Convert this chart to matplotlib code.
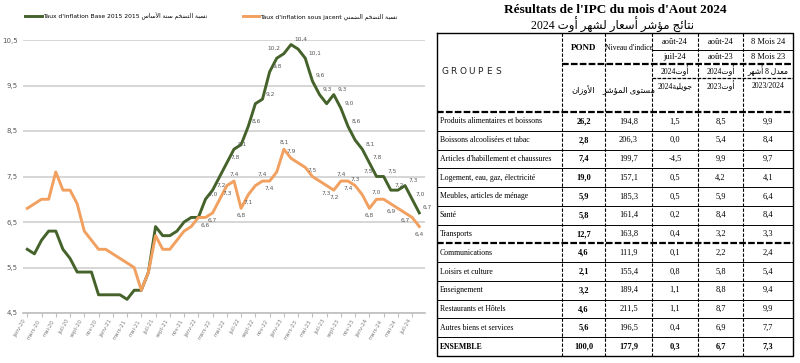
import numpy as np
import matplotlib.pyplot as plt

plt.rcParams['font.family'] = ['DejaVu Sans']

# ---------------- data ----------------
months = ['janv', 'févr', 'mars', 'avr', 'mai', 'juin', 'juil', 'août', 'sept', 'oct', 'nov', 'déc']
periods = [f"{m}-{y}" for y in range(20, 25) for m in months][:56]

base2015 = [5.9, 5.8, 6.1, 6.3, 6.3, 5.9, 5.7, 5.4, 5.4, 5.4, 4.9, 4.9, 4.9, 4.9, 4.8, 5.0,
            5.0, 5.4, 6.4, 6.2, 6.2, 6.3, 6.5, 6.6, 6.6, 7.0, 7.2, 7.5, 7.8, 8.1, 8.2, 8.6,
            9.1, 9.2, 9.8, 10.1, 10.2, 10.4, 10.3, 10.1, 9.6, 9.3, 9.1, 9.3, 9.0, 8.6, 8.3, 8.1,
            7.8, 7.5, 7.5, 7.2, 7.2, 7.3, 7.0, 6.7]
sousjacent = [6.8, 6.9, 7.0, 7.0, 7.6, 7.2, 7.2, 6.9, 6.3, 6.1, 5.9, 5.9, 5.8, 5.7, 5.6, 5.5,
              5.0, 5.4, 6.2, 5.9, 5.9, 6.1, 6.3, 6.4, 6.6, 6.6, 6.7, 7.0, 7.3, 7.4, 6.8, 7.1,
              7.3, 7.4, 7.4, 7.6, 8.1, 7.9, 7.8, 7.7, 7.5, 7.4, 7.3, 7.2, 7.4, 7.4, 7.3, 7.1,
              6.8, 7.0, 7.0, 6.9, 6.8, 6.7, 6.6, 6.4]
green_labels = [25, 26, 28, 29, 31, 33, 34, 36, 37, 39, 40, 41, 43, 44, 45, 47, 48, 49, 50, 51, 53, 54, 55]
green_left = [36, 49]
orange_labels = [25, 26, 28, 29, 30, 31, 33, 34, 36, 37, 40, 42, 43, 44, 45, 46, 48, 49, 51, 53, 55]
orange_above = [29, 33, 36, 37, 40, 44, 46, 49]

groups = ["Produits alimentaires et boissons", "Boissons alcoolisées et tabac",
          "Articles d'habillement et chaussures", "Logement, eau, gaz, électricité",
          "Meubles, articles de ménage", "Santé", "Transports", "Communications",
          "Loisirs et culture", "Enseignement", "Restaurants et Hôtels",
          "Autres biens et services", "ENSEMBLE"]
pond = ["26,2", "2,8", "7,4", "19,0", "5,9", "5,8", "12,7", "4,6", "2,1", "3,2", "4,6", "5,6", "100,0"]
niveau = ["194,8", "206,3", "199,7", "157,1", "185,3", "161,4", "163,8", "111,9", "155,4", "189,4", "211,5", "196,5", "177,9"]
var_mois = ["1,5", "0,0", "-4,5", "0,5", "0,5", "0,2", "0,4", "0,1", "0,8", "1,1", "1,1", "0,4", "0,3"]
var_an = ["8,5", "5,4", "9,9", "4,2", "5,9", "8,4", "3,2", "2,2", "5,8", "8,8", "8,7", "6,9", "6,7"]
var_8m = ["9,9", "8,4", "9,7", "4,1", "6,4", "8,4", "3,3", "2,4", "5,4", "9,4", "9,9", "7,7", "7,3"]


# ---------- tiny arabic shaper (no bidi lib available) ----------
FORMS = {
    'ا': (0xFE8D, 0xFE8E, None, None), 'أ': (0xFE83, 0xFE84, None, None),
    'ب': (0xFE8F, 0xFE90, 0xFE91, 0xFE92), 'ة': (0xFE93, 0xFE94, None, None),
    'ت': (0xFE95, 0xFE96, 0xFE97, 0xFE98), 'ج': (0xFE9D, 0xFE9E, 0xFE9F, 0xFEA0),
    'خ': (0xFEA5, 0xFEA6, 0xFEA7, 0xFEA8), 'د': (0xFEA9, 0xFEAA, None, None),
    'ر': (0xFEAD, 0xFEAE, None, None), 'ز': (0xFEAF, 0xFEB0, None, None),
    'س': (0xFEB1, 0xFEB2, 0xFEB3, 0xFEB4), 'ش': (0xFEB5, 0xFEB6, 0xFEB7, 0xFEB8),
    'ض': (0xFEBD, 0xFEBE, 0xFEBF, 0xFEC0), 'ع': (0xFEC9, 0xFECA, 0xFECB, 0xFECC),
    'ل': (0xFEDD, 0xFEDE, 0xFEDF, 0xFEE0), 'م': (0xFEE1, 0xFEE2, 0xFEE3, 0xFEE4),
    'ن': (0xFEE5, 0xFEE6, 0xFEE7, 0xFEE8), 'ه': (0xFEE9, 0xFEEA, 0xFEEB, 0xFEEC),
    'و': (0xFEED, 0xFEEE, None, None), 'ى': (0xFEEF, 0xFEF0, None, None),
    'ي': (0xFEF1, 0xFEF2, 0xFEF3, 0xFEF4), 'ؤ': (0xFE85, 0xFE86, None, None),
    'ئ': (0xFE89, 0xFE8A, 0xFE8B, 0xFE8C),
}
LAM_ALEF = {'ا': (0xFEFB, 0xFEFC), 'أ': (0xFEF7, 0xFEF8)}


def ar(text):
    res = []
    prev = False
    i = 0
    while i < len(text):
        c = text[i]
        if c not in FORMS:
            res.append(c)
            prev = False
            i += 1
            continue
        if c == 'ل' and i + 1 < len(text) and text[i + 1] in LAM_ALEF:
            iso, fin = LAM_ALEF[text[i + 1]]
            res.append(chr(fin if prev else iso))
            prev = False
            i += 2
            continue
        iso, fin, ini, med = FORMS[c]
        nxt = text[i + 1] if i + 1 < len(text) else None
        joins = ini is not None and nxt in FORMS
        if prev and joins:
            g = med
        elif prev:
            g = fin
        elif joins:
            g = ini
        else:
            g = iso
        res.append(chr(g))
        prev = joins
        i += 1
    return ''.join(reversed(res))


fig = plt.figure(figsize=(8, 3.63), dpi=100)

# ---------------- table (pixel coordinates) ----------------
tab = fig.add_axes([0, 0, 1, 1])
tab.set_xlim(0, 800)
tab.set_ylim(363, 0)
tab.axis('off')

serif = ['Liberation Serif', 'DejaVu Sans']
tab.text(615, 10, "Résultats de l'IPC du mois d'Aout 2024", family=serif, fontsize=9.5,
         fontweight='bold', ha='center', va='center')
tab.text(613, 25, "2024 " + ar("نتائج مؤشر أسعار لشهر أوت"), family=serif, fontsize=8.5,
         ha='center', va='center')

cols = [437, 562, 605, 652, 698, 743, 793]
top, hbot, bot = 33, 112, 356
rh = (bot - hbot) / len(groups)

tab.plot([cols[0], cols[-1], cols[-1], cols[0], cols[0]], [top, top, bot, bot, top], color='black', lw=1)
for x in cols[1:-1]:
    tab.plot([x, x], [top, bot], color='black', lw=0.8, ls=(0, (3, 1.5)))
tab.plot([cols[3], cols[-1]], [50, 50], color='black', lw=0.7)
tab.plot([cols[1], cols[-1]], [64, 64], color='black', lw=1.6, ls=(0, (3, 1)))
tab.plot([cols[3], cols[-1]], [78, 78], color='black', lw=0.9, ls=(0, (3, 1)))
tab.plot([cols[0], cols[-1]], [hbot, hbot], color='black', lw=1.6, ls=(0, (3, 1)))
for k in range(1, len(groups)):
    y = hbot + k * rh
    if k == 7:
        tab.plot([cols[0], cols[-1]], [y, y], color='black', lw=1.6, ls=(0, (3, 1)))
    else:
        tab.plot([cols[0], cols[-1]], [y, y], color='black', lw=0.7)

for k, ch in enumerate("GROUPES"):
    tab.text(441 + k * 9, 72, ch, family='DejaVu Sans', fontsize=6.5, ha='left', va='center', color='#222222')
cx = [(cols[j] + cols[j + 1]) / 2 for j in range(len(cols) - 1)]
tab.text(cx[1], 48, "POND", family=serif, fontsize=6.5, fontweight='bold', ha='center', va='center')
tab.text(cx[2], 48, "Niveau d'indice", family=serif, fontsize=5.5, ha='center', va='center')
tab.text(cx[1], 90, ar("الأوزان"), family=serif, fontsize=6, ha='center', va='center')
tab.text(cx[2], 90, ar("مستوى المؤشر"), family=serif, fontsize=6, ha='center', va='center')
head_fr = [("août-24", "juil-24"), ("août-24", "août-23"), ("8 Mois 24", "8 Mois 23")]
head_ar = [("2024" + ar("أوت"), "2024" + ar("جويلية")),
           ("2024" + ar("أوت"), "2023" + ar("أوت")),
           (ar("معدل 8 أشهر"), "2023/2024")]
for j in range(3):
    tab.text(cx[3 + j], 42, head_fr[j][0], family=serif, fontsize=6, ha='center', va='center')
    tab.text(cx[3 + j], 57, head_fr[j][1], family=serif, fontsize=6, ha='center', va='center')
    tab.text(cx[3 + j], 71, head_ar[j][0], family=serif, fontsize=5.5, ha='center', va='center')
    tab.text(cx[3 + j], 86, head_ar[j][1], family=serif, fontsize=5.5, ha='center', va='center')

for k, g in enumerate(groups):
    y = hbot + (k + 0.5) * rh
    last = k == len(groups) - 1
    w = 'bold' if last else 'normal'
    tab.text(cols[0] + 3, y, g, family=serif, fontsize=5.6, ha='left', va='center', fontweight=w)
    tab.text(cx[1], y, pond[k], family=serif, fontsize=6, ha='center', va='center', fontweight='bold')
    for j, col in enumerate([niveau, var_mois, var_an, var_8m]):
        tab.text(cx[2 + j], y, col[k], family=serif, fontsize=6, ha='center', va='center', fontweight=w)

# ---------------- line chart ----------------
ax = fig.add_axes([23 / 800, 50 / 363, 402 / 800, 273 / 363])
x = np.arange(len(periods))
green = '#44622a'
orange = '#f2a060'
ax.plot(x, base2015, color=green, lw=2.1, zorder=3,
        label="Taux d'inflation Base 2015 2015 " + ar("نسبة التضخم سنة الأساس"))
ax.plot(x, sousjacent, color=orange, lw=2.1, zorder=3,
        label="Taux d'inflation sous jacent " + ar("نسبة التضخم الضمني"))

for i in green_labels:
    left = i in green_left
    ax.annotate(f"{base2015[i]:.1f}".replace('.', ','), (x[i], base2015[i]),
                xytext=(-2.5 if left else 2.5, 2), textcoords='offset points', fontsize=4.2,
                color='#595959', ha='right' if left else 'left', va='bottom')
for i in orange_labels:
    up = i in orange_above
    ax.annotate(f"{sousjacent[i]:.1f}".replace('.', ','), (x[i], sousjacent[i]),
                xytext=(0, 3 if up else -3.5), textcoords='offset points', fontsize=4.2,
                color='#595959', ha='center', va='bottom' if up else 'top')

ax.set_xlim(-0.6, 55.8)
ax.set_ylim(4.5, 10.5)
yt = [4.5, 5.5, 6.5, 7.5, 8.5, 9.5, 10.5]
ax.set_yticks(yt)
ax.set_yticklabels([f"{v:.1f}".replace('.', ',') for v in yt], fontsize=5, color='#595959')
ax.yaxis.grid(True, color='#cfcfcf', lw=1.2)
ax.tick_params(axis='y', length=0, pad=4)
ax.set_xticks(x[::2])
ax.set_xticklabels(periods[::2], rotation=60, ha='right', fontsize=3.8, color='#7f7f7f')
ax.tick_params(axis='x', length=3, color='#bfbfbf', pad=1)
for s in ['top', 'right', 'left']:
    ax.spines[s].set_visible(False)
ax.spines['bottom'].set_color('#bfbfbf')
ax.spines['bottom'].set_linewidth(1.2)
ax.set_facecolor('none')
ax.legend(loc='lower left', bbox_to_anchor=(0.0, 1.065), ncol=2, frameon=False, fontsize=4.3,
          handlelength=2.8, handletextpad=0.1, columnspacing=6, borderaxespad=0)

fig.savefig('out.png', dpi=100)
